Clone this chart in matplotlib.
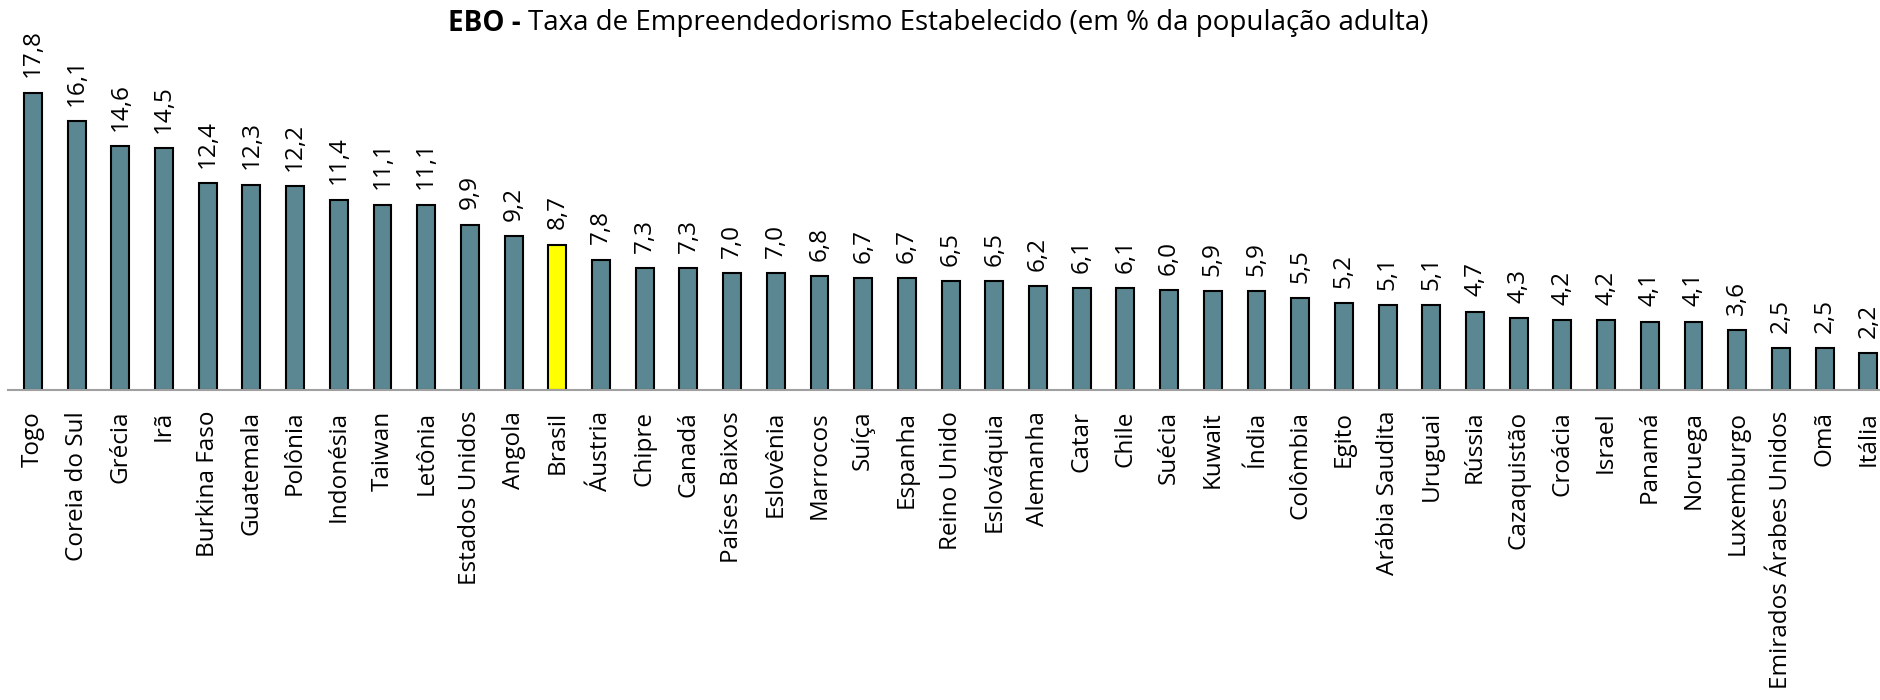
import matplotlib
matplotlib.use("Agg")
import matplotlib.pyplot as plt
import numpy as np

countries = ["Togo", "Coreia do Sul", "Grécia", "Irã", "Burkina Faso", "Guatemala",
             "Polônia", "Indonésia", "Taiwan", "Letônia", "Estados Unidos", "Angola",
             "Brasil", "Áustria", "Chipre", "Canadá", "Países Baixos", "Eslovênia",
             "Marrocos", "Suíça", "Espanha", "Reino Unido", "Eslováquia", "Alemanha",
             "Catar", "Chile", "Suécia", "Kuwait", "Índia", "Colômbia", "Egito",
             "Arábia Saudita", "Uruguai", "Rússia", "Cazaquistão", "Croácia", "Israel",
             "Panamá", "Noruega", "Luxemburgo", "Emirados Árabes Unidos", "Omã", "Itália"]
values = [17.8, 16.1, 14.6, 14.5, 12.4, 12.3, 12.2, 11.4, 11.1, 11.1, 9.9, 9.2,
          8.7, 7.8, 7.3, 7.3, 7.0, 7.0, 6.8, 6.7, 6.7, 6.5, 6.5, 6.2, 6.1, 6.1,
          6.0, 5.9, 5.9, 5.5, 5.2, 5.1, 5.1, 4.7, 4.3, 4.2, 4.2, 4.1, 4.1, 3.6,
          2.5, 2.5, 2.2]
highlight = "Brasil"

title_bold = "EBO - "
title_rest = "Taxa de Empreendedorismo Estabelecido (em % da população adulta)"

plt.rcParams['font.family'] = ['Open Sans', 'DejaVu Sans']

BAR = '#5A8792'
FS = 17.5

fig = plt.figure(figsize=(18.8, 7), dpi=100)
ax = fig.add_axes([8 / 1880, 310 / 700, 1 - 8 / 1880, 330 / 700])

x = np.arange(len(countries))
colors = ['#FFFF00' if c == highlight else BAR for c in countries]
ax.bar(x, values, width=0.41, color=colors, edgecolor='black', linewidth=1.5, zorder=2)

for xi, v in zip(x, values):
    ax.annotate(f"{v:.1f}".replace('.', ','), (xi, v), xytext=(0, 11),
                textcoords='offset points', rotation=90, ha='center', va='bottom',
                fontsize=FS, color='black')

ax.set_xlim(-0.57, -0.57 + 1872 / 43.7)
ax.set_ylim(0, 330 / 16.7)
ax.set_xticks(x)
ax.set_xticklabels(countries, rotation=90, fontsize=FS)
ax.tick_params(axis='x', length=0, pad=15)
ax.set_yticks([])
for s in ['top', 'right', 'left']:
    ax.spines[s].set_visible(False)
ax.spines['bottom'].set_color('#A0A0A0')
ax.spines['bottom'].set_linewidth(1.5)

# title: bold part + regular part, centred together
fig.canvas.draw()
r = fig.canvas.get_renderer()
t1 = fig.text(0, 0.967, title_bold, fontsize=20, fontweight='bold', va='center', ha='left')
t2 = fig.text(0, 0.967, title_rest, fontsize=20, va='center', ha='left')
w1 = t1.get_window_extent(r).width
w2 = t2.get_window_extent(r).width
x0 = 938 - (w1 + w2) / 2
t1.set_x(x0 / 1880)
t2.set_x((x0 + w1) / 1880)

fig.savefig("out.png", dpi=100)
